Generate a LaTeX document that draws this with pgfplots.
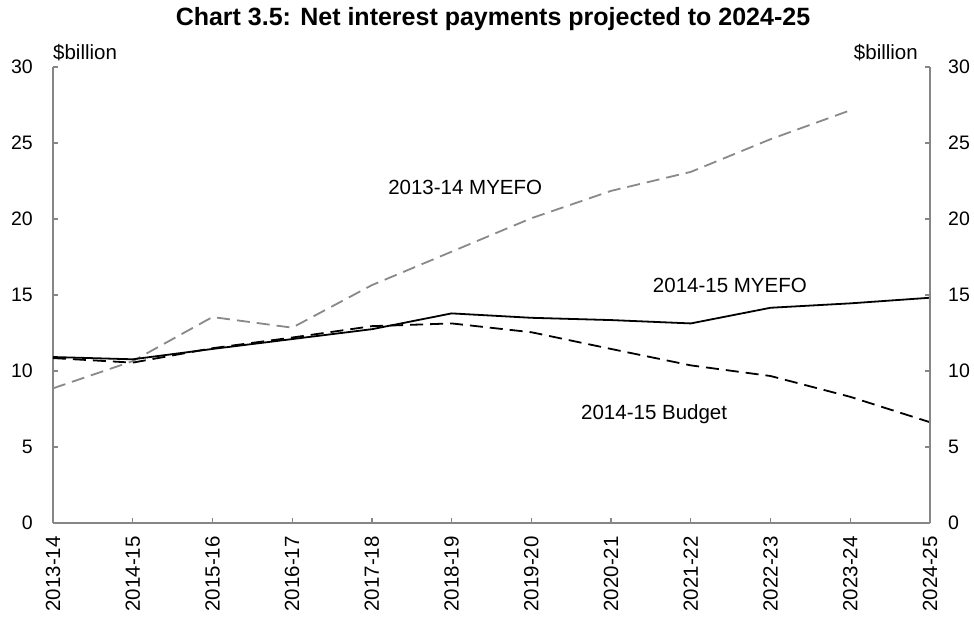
\documentclass[border=0pt]{standalone}
\usepackage{pgfplots}
\pgfplotsset{compat=1.18}
\usepackage{fontspec}
\setmainfont{Liberation Sans}
\definecolor{axgrey}{RGB}{134,134,134}
\definecolor{lngrey}{RGB}{137,137,137}
\begin{document}
\begin{tikzpicture}
\begin{axis}[
  at={(0,0)}, anchor=south west,
  width=877pt, height=456pt, scale only axis,
  xmin=0, xmax=11, ymin=0, ymax=30,
  axis x line=bottom, axis y line=left,
  axis line style={-, draw=axgrey, line width=1.2pt},
  tick style={draw=axgrey, line width=1.2pt},
  tick align=inside, major tick length=5pt,
  xtick={0,...,11},
  xticklabels={2013-14,2014-15,2015-16,2016-17,2017-18,2018-19,2019-20,2020-21,2021-22,2022-23,2023-24,2024-25},
  xticklabel style={yshift=-13pt, rotate=90, anchor=east, inner sep=0pt, font=\fontsize{20.5}{22}\selectfont},
  ytick={0,5,...,30},
  yticklabel style={xshift=-20pt, anchor=east, inner sep=0pt, font=\fontsize{19.5}{22}\selectfont},
  /pgf/number format/assume math mode=true,
  clip=false,
]
\addplot[lngrey, line width=1.8pt, dash pattern=on 13pt off 7pt] coordinates {
(0,8.86) (1,10.65) (2,13.55) (3,12.85) (4,15.65) (5,17.85) (6,20.05) (7,21.85) (8,23.1) (9,25.25) (10,27.15)};
\addplot[black, line width=1.8pt, dash pattern=on 13pt off 7pt] coordinates {
(0,10.85) (1,10.55) (2,11.5) (3,12.2) (4,12.95) (5,13.13) (6,12.55) (7,11.45) (8,10.37) (9,9.67) (10,8.3) (11,6.63)};
\addplot[black, line width=1.8pt] coordinates {
(0,10.92) (1,10.77) (2,11.45) (3,12.1) (4,12.75) (5,13.79) (6,13.5) (7,13.35) (8,13.13) (9,14.16) (10,14.45) (11,14.82)};
\node[anchor=base, inner sep=0pt, font=\fontsize{20.5}{22}\selectfont] at (axis cs:5.17,21.6) {2013-14 MYEFO};
\node[anchor=base, inner sep=0pt, font=\fontsize{20.5}{22}\selectfont] at (axis cs:8.49,15.16) {2014-15 MYEFO};
\node[anchor=base, inner sep=0pt, font=\fontsize{20.5}{22}\selectfont] at (axis cs:7.54,6.81) {2014-15 Budget};
\node[anchor=base west, inner sep=0pt, font=\fontsize{20.5}{22}\selectfont] at (rel axis cs:0,1) [yshift=7pt] {\$billion};
\node[anchor=base east, inner sep=0pt, font=\fontsize{20.5}{22}\selectfont] at (rel axis cs:1,1) [yshift=7pt, xshift=-12pt] {\$billion};
\end{axis}
\begin{axis}[
  at={(0,0)}, anchor=south west,
  width=877pt, height=456pt, scale only axis,
  xmin=0, xmax=11, ymin=0, ymax=30,
  axis x line=none, axis y line=right,
  axis line style={-, draw=axgrey, line width=1.2pt},
  tick style={draw=axgrey, line width=1.2pt},
  tick align=inside, major tick length=5pt,
  xtick=\empty,
  ytick={0,5,...,30},
  yticklabel style={xshift=18pt, anchor=west, inner sep=0pt, font=\fontsize{19.5}{22}\selectfont},
  /pgf/number format/assume math mode=true,
]
\end{axis}
\node[anchor=base, inner sep=0pt, font=\fontsize{25}{27}\selectfont\bfseries] at (440pt,497pt) {Chart 3.5: Net interest payments projected to 2024-25};
\pgfresetboundingbox
\path (-53pt,-95pt) rectangle (921pt,523pt);
\end{tikzpicture}
\end{document}
